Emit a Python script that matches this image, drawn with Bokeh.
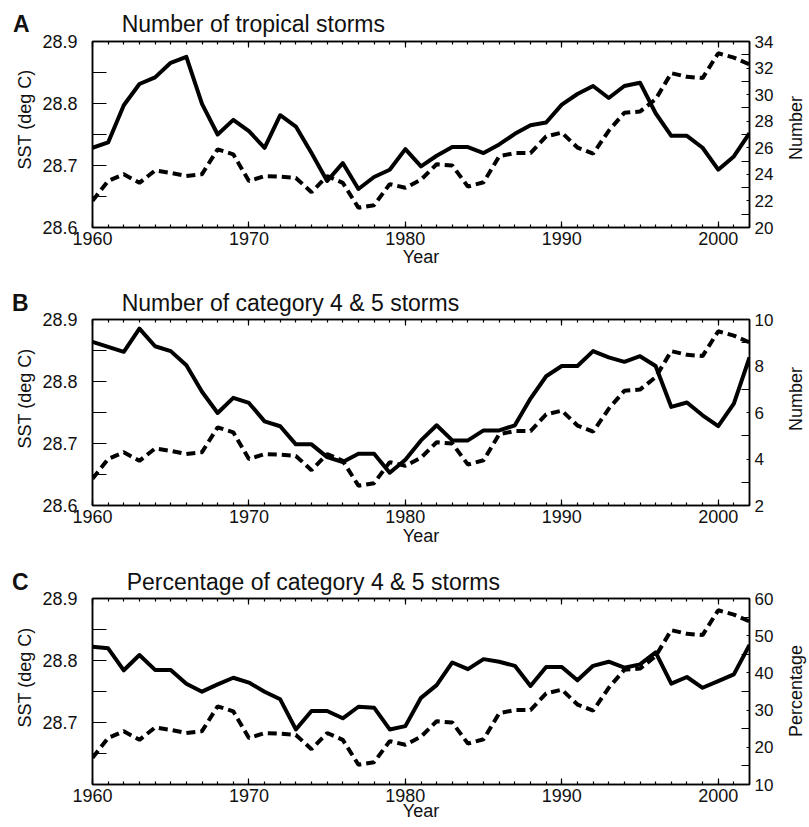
from bokeh.plotting import figure
from bokeh.models import Range1d, LinearAxis, FixedTicker, Title, Div
from bokeh.layouts import column, row
from bokeh.embed import file_html
from bokeh.resources import INLINE

# ---------------- data ----------------
years = list(range(1960, 2003))

# SST (deg C), dashed, identical in all three panels
sst = [28.643, 28.675, 28.686, 28.672, 28.692, 28.688, 28.683, 28.686, 28.726, 28.718,
       28.675, 28.683, 28.682, 28.680, 28.657, 28.683, 28.672, 28.632, 28.636, 28.670,
       28.664, 28.677, 28.702, 28.700, 28.666, 28.673, 28.715, 28.720, 28.720, 28.747,
       28.753, 28.729, 28.719, 28.756, 28.785, 28.787, 28.807, 28.849, 28.843, 28.841,
       28.881, 28.874, 28.863]

# A: number of tropical storms (solid)
n_tropical = [26.0, 26.4, 29.2, 30.8, 31.3, 32.4, 32.85, 29.3, 27.0, 28.1,
              27.25, 26.0, 28.45, 27.6, 25.6, 23.5, 24.85, 22.9, 23.8, 24.35,
              25.9, 24.6, 25.4, 26.05, 26.05, 25.6, 26.25, 27.05, 27.7, 27.9,
              29.25, 30.05, 30.65, 29.75, 30.65, 30.9, 28.6, 26.9, 26.9, 26.0,
              24.35, 25.35, 27.1]

# B: number of category 4 & 5 storms (solid)
n_cat45 = [9.04, 8.82, 8.61, 9.61, 8.85, 8.64, 8.03, 6.89, 5.98, 6.63,
           6.41, 5.62, 5.41, 4.63, 4.63, 4.08, 3.87, 4.23, 4.23, 3.41,
           3.97, 4.80, 5.45, 4.80, 4.80, 5.23, 5.23, 5.45, 6.60, 7.56,
           8.00, 8.00, 8.64, 8.37, 8.18, 8.42, 8.00, 6.24, 6.43, 5.88,
           5.41, 6.38, 8.37]

# C: percentage of category 4 & 5 storms (solid)
pct_cat45 = [47.0, 46.6, 40.7, 44.8, 40.8, 40.8, 37.1, 34.95, 36.9, 38.7,
             37.4, 34.95, 32.9, 24.8, 29.75, 29.75, 27.8, 30.9, 30.65, 24.8,
             25.7, 33.3, 36.7, 42.8, 41.0, 43.7, 43.0, 41.9, 36.5, 41.6,
             41.6, 38.0, 41.9, 43.0, 41.4, 42.3, 45.5, 37.1, 38.9, 36.0,
             37.8, 39.6, 47.5]

right_series = [n_tropical, n_cat45, pct_cat45]
panel_letters = ["A", "B", "C"]
panel_titles = ["Number of tropical storms",
                "Number of category 4 &amp; 5 storms",
                "Percentage of category 4 &amp; 5 storms"]
left_label = "SST (deg C)"
right_labels = ["Number", "Number", "Percentage"]
x_label = "Year"
right_ranges = [(20, 34), (2, 10), (10, 60)]
right_major = [[20, 22, 24, 26, 28, 30, 32, 34], [2, 4, 6, 8, 10], [10, 20, 30, 40, 50, 60]]
right_minor = [[21, 23, 25, 27, 29, 31, 33], [3, 5, 7, 9], [15, 25, 35, 45, 55]]
left_major = [[28.6, 28.7, 28.8, 28.9], [28.6, 28.7, 28.8, 28.9], [28.7, 28.8, 28.9]]
left_minor = [28.65, 28.75, 28.85]
year_major = [1960, 1970, 1980, 1990, 2000]
year_minor = list(range(1960, 2003))

# ---------------- layout / style ----------------
FONT = "Liberation Sans"
W = 809
FIG_W = 787
header_h = [30, 22, 22]
fig_h = [256, 256, 241]
borders_top = [11, 11, 12]
borders_bottom = [59, 59, 43]
letter_top = [13.1, 6.1, 7.1]
letter_left = [13, 12, 12]
title_left = [121.7, 121.7, 126.7]
year_standoff = [-1, 0, -4]
left_offset = [58, 57, 57]
right_label_cy = [97.5, 90.5, 104.5]

items = []
for i in range(3):
    html = (
        f'<div style="position:relative;width:{W}px;height:{header_h[i]}px;overflow:visible;'
        f'font-family:\'{FONT}\';color:#111111;">'
        f'<span style="position:absolute;left:{letter_left[i]}px;top:{letter_top[i]}px;'
        f'font-size:23px;line-height:22px;font-weight:bold;white-space:nowrap;">{panel_letters[i]}</span>'
        f'<span style="position:absolute;left:{title_left[i]}px;top:{letter_top[i]}px;'
        f'font-size:23px;line-height:22px;white-space:nowrap;">{panel_titles[i]}</span>'
        f'</div>'
    )
    items.append(Div(text=html, width=W, height=header_h[i], margin=0,
                     styles={"overflow": "visible", "z-index": "2"}))

    lo, hi = right_ranges[i]
    p = figure(width=FIG_W, height=fig_h[i],
               x_range=Range1d(1960, 2002), y_range=Range1d(28.6, 28.9),
               output_backend="svg", toolbar_location=None,
               min_border_left=92, min_border_right=FIG_W - 749,
               min_border_top=borders_top[i], min_border_bottom=borders_bottom[i])
    p.extra_y_ranges = {"r": Range1d(lo, hi)}
    p.grid.visible = False
    p.outline_line_color = "black"
    p.outline_line_width = 1.5
    p.background_fill_color = "white"
    p.border_fill_color = None

    # lines
    p.line(years, sst, line_color="black", line_width=4, line_dash="9 5")
    p.line(years, right_series[i], line_color="black", line_width=4,
           y_range_name="r", line_join="round")

    # right axis
    rax = LinearAxis(y_range_name="r",
                     ticker=FixedTicker(ticks=right_major[i], minor_ticks=right_minor[i]))
    p.add_layout(rax, "right")
    # top axis (ticks only)
    tax = LinearAxis(ticker=FixedTicker(ticks=year_major, minor_ticks=year_minor))
    p.add_layout(tax, "above")

    bx = p.below[0]
    bx.ticker = FixedTicker(ticks=year_major, minor_ticks=year_minor)
    ly = p.left[0]
    ly.ticker = FixedTicker(ticks=left_major[i], minor_ticks=left_minor)

    for ax in (bx, tax, ly, rax):
        ax.axis_line_color = "black"
        ax.axis_line_width = 1.5
        ax.major_tick_line_color = "black"
        ax.minor_tick_line_color = "black"
        ax.major_tick_line_width = 1.2
        ax.minor_tick_line_width = 1.2
        ax.major_tick_out = 0
        ax.minor_tick_out = 0
        ax.major_label_text_font = FONT
        ax.major_label_text_color = "#111111"

    for ax in (bx, tax):
        ax.major_tick_in = 6
        ax.minor_tick_in = 3
    bx.major_label_text_font_size = "18px"
    bx.major_label_standoff = 4
    bx.axis_label = x_label
    bx.axis_label_text_font = FONT
    bx.axis_label_text_font_size = "18px"
    bx.axis_label_text_font_style = "normal"
    bx.axis_label_text_color = "#111111"
    bx.axis_label_standoff = year_standoff[i]
    tax.major_label_text_font_size = "1px"
    tax.major_label_text_color = None
    tax.major_label_standoff = 0

    ly.major_tick_in = 14
    ly.minor_tick_in = 14
    ly.major_label_text_font_size = "18px"
    ly.major_label_standoff = 15

    rax.major_tick_in = 3
    rax.minor_tick_in = 8
    rax.major_label_text_font_size = "17px"
    rax.major_label_standoff = 5

    p.add_layout(Title(text=left_label, align="left", offset=left_offset[i],
                       text_font=FONT, text_font_size="18px", text_font_style="normal",
                       text_color="#111111", standoff=9), "left")

    side_html = (
        f'<div style="position:relative;width:{W - FIG_W}px;height:{fig_h[i]}px;overflow:visible;'
        f'font-family:\'{FONT}\';color:#111111;">'
        f'<span style="position:absolute;left:9px;top:{right_label_cy[i]}px;'
        f'transform:translate(-50%,-50%) rotate(-90deg);font-size:18px;line-height:18px;'
        f'white-space:nowrap;">{right_labels[i]}</span></div>'
    )
    side = Div(text=side_html, width=W - FIG_W, height=fig_h[i], margin=0,
               styles={"overflow": "visible"})
    items.append(row(p, side, spacing=0))

layout = column(*items, spacing=0)
open("out.html", "w").write(file_html(layout, INLINE))
